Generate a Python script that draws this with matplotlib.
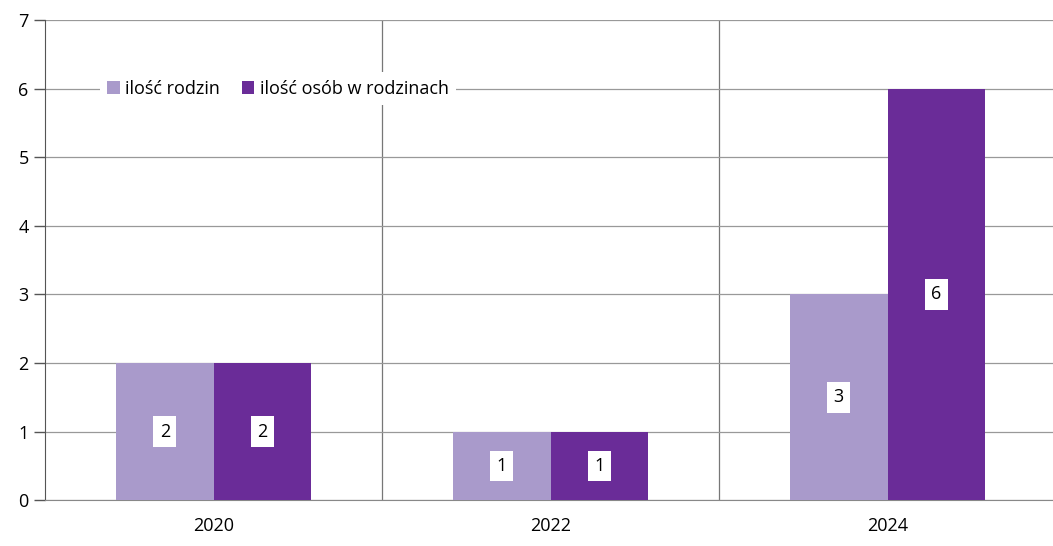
import numpy as np
import matplotlib.pyplot as plt

plt.rcParams['font.family'] = ['Open Sans', 'DejaVu Sans']

years = ['2020', '2022', '2024']
rodziny = [2, 1, 3]
osoby = [2, 1, 6]

light = '#a99acb'
dark = '#6a2c98'

fig = plt.figure(figsize=(10.53, 5.46), dpi=100)
ax = fig.add_axes([0.043, 0.084, 0.96, 0.879])

x = np.arange(len(years)) + 0.5
w = 0.29
b1 = ax.bar(x - w / 2, rodziny, w, color=light, label='ilość rodzin', zorder=3)
b2 = ax.bar(x + w / 2, osoby, w, color=dark, label='ilość osób w rodzinach', zorder=3)

# wartości w białych ramkach na środku słupka
for bars, vals in ((b1, rodziny), (b2, osoby)):
    for r, v in zip(bars, vals):
        ax.text(r.get_x() + r.get_width() / 2, v / 2, str(v),
                ha='center', va='center', fontsize=13, color='black', zorder=4,
                bbox=dict(boxstyle='square,pad=0.35', fc='white', ec='none'))

ax.set_xlim(0, 3)
ax.set_ylim(0, 7)
ax.set_yticks(range(8))
ax.set_xticks(x)
ax.set_xticklabels(years)
ax.tick_params(axis='x', length=0, pad=12, labelsize=13)
ax.tick_params(axis='y', length=8, width=1, color='#555555', labelsize=13, pad=4)
ax.grid(axis='y', color='#999999', linewidth=0.9, zorder=1)
for b in (1, 2):
    ax.axvline(b, color='#777777', linewidth=0.9, zorder=1)

for s in ('top', 'right'):
    ax.spines[s].set_visible(False)
ax.spines['bottom'].set_color('#888888')
ax.spines['left'].set_color('#555555')

leg = ax.legend(loc='upper left', bbox_to_anchor=(0.045, 0.91), ncol=2, frameon=True,
                fontsize=13, handlelength=0.7, handleheight=0.7, handletextpad=0.3,
                columnspacing=1.2, borderpad=0.4)
leg.get_frame().set_facecolor('white')
leg.get_frame().set_edgecolor('none')
leg.get_frame().set_alpha(1)
leg.set_zorder(5)

fig.savefig('out.png', dpi=100)
